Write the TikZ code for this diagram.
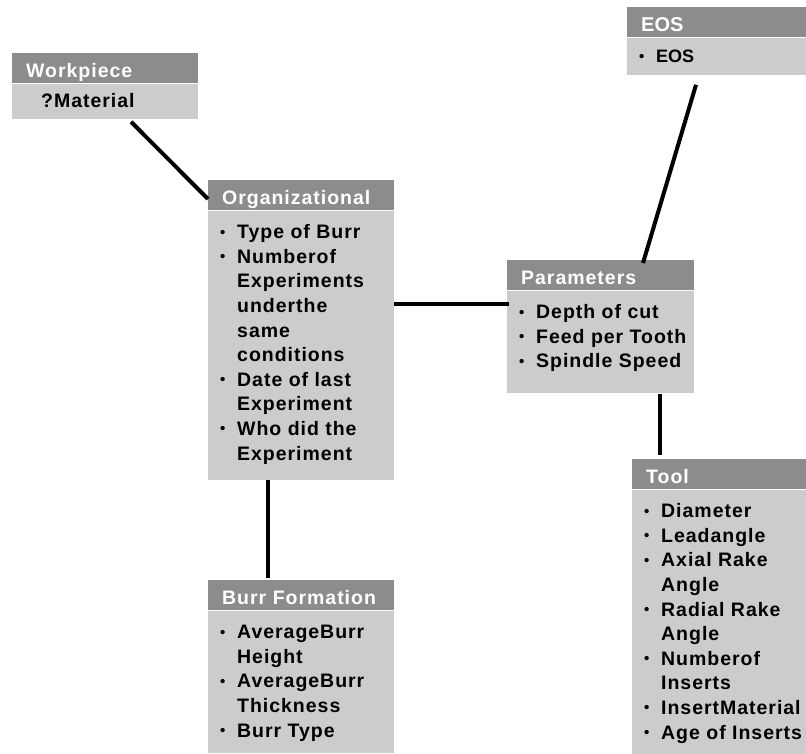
\documentclass[tikz,border=0pt]{standalone}
\usepackage{fontspec}
\setmainfont{Liberation Sans}
\newfontfamily\spacedfont[LetterSpace=5.0]{Liberation Sans}
\newfontfamily\plainfont{Liberation Sans}
\usetikzlibrary{positioning}
\definecolor{headgray}{RGB}{140,140,140}
\definecolor{bodygray}{RGB}{204,204,204}
% bullet and continuation lines
\newcommand{\bul}{\strut\makebox[17pt][l]{\raisebox{1.5pt}{\fontsize{15}{15}\selectfont •}}}
\newcommand{\cnt}{\strut\hspace*{17pt}}
\newcommand{\boxbody}[4][10.8pt]{\parbox[b][#2][t]{#3}{\spacedfont\bfseries\fontsize{19.5}{24.6}\selectfont\raggedright\leftskip=12pt\vspace*{#1}#4}}
\begin{document}
\begin{tikzpicture}[
                        x=1pt, y=-1pt,
                        head/.style={anchor=north west, fill=headgray, text=white, inner xsep=14pt, inner ysep=0pt,
                                     minimum height=30pt, text height=19pt, text depth=0pt, align=left, text width=#1,
                                     font=\spacedfont\bfseries\fontsize{19.5}{24}\selectfont},
                        body/.style={fill=bodygray, inner sep=0pt},
                        conn/.style={line width=4pt}
                    ]
                    \useasboundingbox (0,0) rectangle (806,754);
                    % Blocks
                    \node [head=158pt] (wphead) at (12,53) {Workpiece};
                    \node [body,below=0pt of wphead] (wp) {\boxbody[6.8pt]{35pt}{186pt}{\cnt ?Material}};

                    \node [head=158pt] (orghead) at (208,180) {Organizational};
                    \node [body,below=0pt of orghead] (org) {\boxbody{269pt}{186pt}{%
                        \bul Type of Burr\\
                        \bul Numberof\\
                        \cnt Experiments\\
                        \cnt underthe\\
                        \cnt same\\
                        \cnt conditions\\
                        \bul Date of last\\
                        \cnt Experiment\\
                        \bul Who did the\\
                        \cnt Experiment}};

                    \node [head=159pt] (parhead) at (507,260) {Parameters};
                    \node [body,below=0pt of parhead] (par) {\boxbody{102pt}{187pt}{%
                        \bul Depth of cut\\
                        \bul Feed per Tooth\\
                        \bul Spindle Speed}};

                    \node [head=151pt,font=\plainfont\bfseries\fontsize{20}{22}\selectfont] (eoshead) at (627,7) {EOS};
                    \node [body,below=0pt of eoshead] (eos) {\boxbody[7.8pt]{37pt}{179pt}{\bul{\plainfont\fontsize{18}{24.6}\selectfont EOS}}};

                    \node [head=146pt] (toolhead) at (632,459) {Tool};
                    \node [body,below=0pt of toolhead] (tool) {\boxbody{264pt}{174pt}{%
                        \bul Diameter\\
                        \bul Leadangle\\
                        \bul Axial Rake\\
                        \cnt Angle\\
                        \bul Radial Rake\\
                        \cnt Angle\\
                        \bul Numberof\\
                        \cnt Inserts\\
                        \bul InsertMaterial\\
                        \bul Age of Inserts}};

                    \node [head=158pt] (burrhead) at (208,580) {Burr Formation};
                    \node [body,below=0pt of burrhead] (burr) {\boxbody{142pt}{186pt}{%
                        \bul AverageBurr\\
                        \cnt Height\\
                        \bul AverageBurr\\
                        \cnt Thickness\\
                        \bul Burr Type}};

                    % Connections
                    \draw [conn] ([shift={(119,3)}]wp.south west) -- ([shift={(0,19)}]orghead.north west);
                    \draw [conn] ([shift={(69,10)}]eos.south west) -- ([shift={(136,3)}]parhead.north west);
                    \draw [conn] ([shift={(0,94)}]org.north east) -- ([shift={(2,14)}]par.north west);
                    \draw [conn] ([shift={(153,1)}]par.south west) -- ([shift={(28,-4)}]toolhead.north west);
                    \draw [conn] ([shift={(60,0)}]org.south west) -- ([shift={(60,-2)}]burrhead.north west);
                \end{tikzpicture}
\end{document}
